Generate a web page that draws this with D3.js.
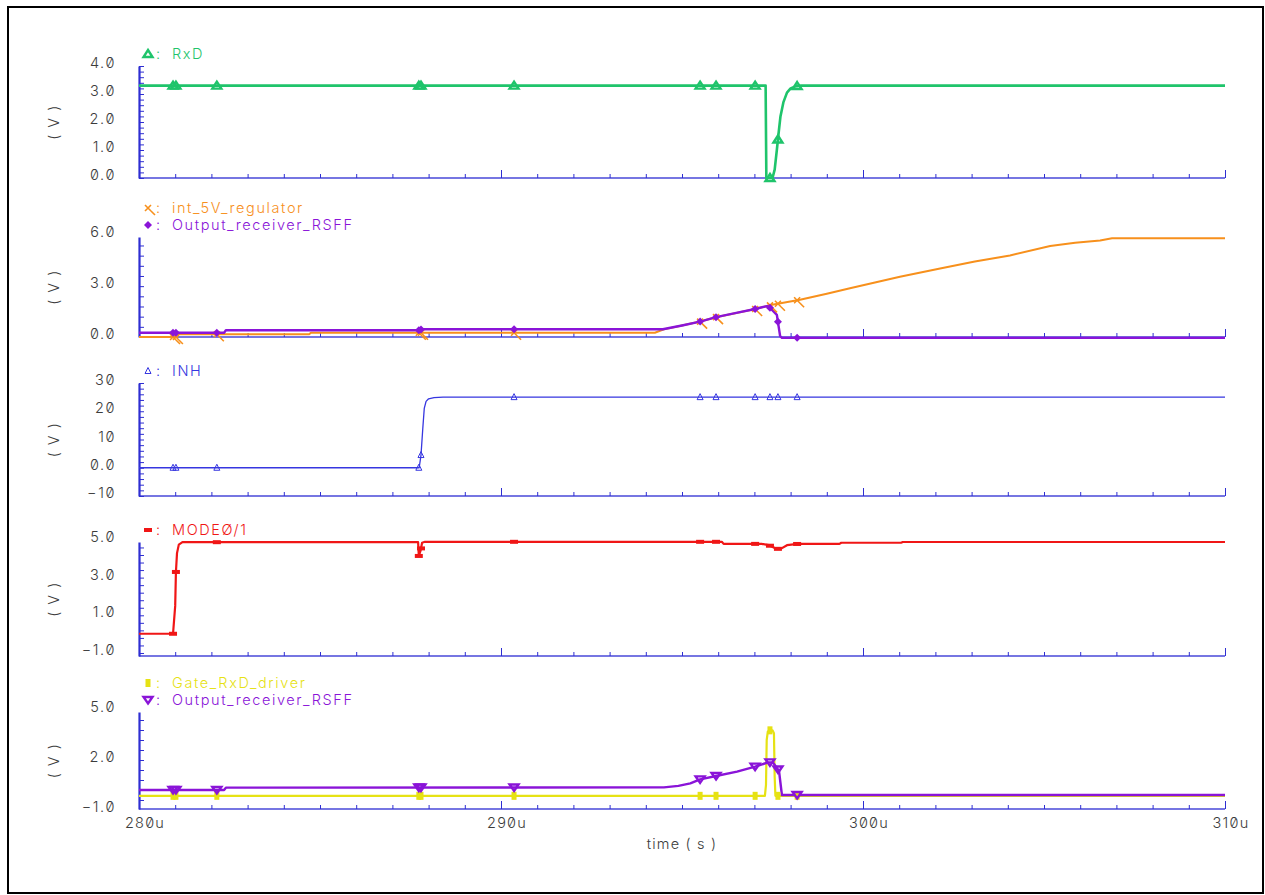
<!DOCTYPE html>
<html>
<head>
<meta charset="utf-8">
<script src="https://cdn.jsdelivr.net/npm/d3@7/dist/d3.min.js"></script>
<style>
  body { margin: 0; background: #fff; }
  svg text {
    font-family: Inter, 'Liberation Sans', sans-serif;
    font-weight: 300;
    font-feature-settings: 'zero' 1;
  }
</style>
</head>
<body>
<svg id="chart" width="1265" height="895"></svg>
<script>
// time in microseconds
const timeTicks = [280, 290, 300, 310]
const timeLabels = ['280u', '290u', '300u', '310u']

// all waveforms carry markers at the same simulation points
const markerTimes = [280.94, 281.02, 282.15, 287.73, 287.79, 290.36, 295.5, 295.94, 297.02, 297.43, 297.65, 298.18]

// [time (u), volts]
const rxd = [[280, 3.3], [297.31, 3.3], [297.33, 0], [297.5, 0], [297.56, 0.3], [297.62, 1.0], [297.66, 1.5],
  [297.72, 2.2], [297.8, 2.7], [297.9, 3.05], [298.0, 3.2], [298.15, 3.28], [298.3, 3.3], [310, 3.3]]

const regulator = [[280, 0], [281.05, 0], [281.1, 0.16], [284.7, 0.16], [284.75, 0.25], [294.25, 0.25],
  [294.5, 0.45], [295.0, 0.68], [295.5, 0.91], [295.94, 1.17], [296.5, 1.42], [297.02, 1.65], [297.38, 1.84],
  [297.49, 1.9], [298.26, 2.2], [299.0, 2.55], [299.64, 2.88], [300.3, 3.2], [301.02, 3.55], [302.13, 4.04],
  [303.09, 4.45], [304.06, 4.81], [305.17, 5.37], [305.86, 5.56], [306.55, 5.7], [306.88, 5.82], [310, 5.82]]

const rsff = [[280, 0.25], [282.35, 0.25], [282.4, 0.4], [287.75, 0.4], [287.8, 0.46], [294.47, 0.46],
  [295.0, 0.68], [295.5, 0.91], [295.94, 1.17], [296.5, 1.42], [297.02, 1.65], [297.38, 1.84], [297.62, 1.31],
  [297.71, 0.06], [297.76, -0.05], [310, -0.05]]

const inh = [[280, 0], [287.74, 0], [287.79, 4.5], [287.84, 14], [287.88, 21], [287.93, 23.5], [288.0, 24.4],
  [288.15, 24.8], [288.4, 25], [310, 25]]

const mode = [[280, 0.02], [280.94, 0.02], [281.0, 1.5], [281.02, 3.3], [281.05, 4.3], [281.1, 4.75],
  [281.2, 4.88], [287.71, 4.88], [287.73, 4.15], [287.78, 4.45], [287.82, 4.85], [287.9, 4.9], [296.1, 4.9],
  [296.15, 4.79], [297.2, 4.79], [297.4, 4.72], [297.62, 4.52], [297.75, 4.55], [297.9, 4.72], [298.2, 4.79],
  [299.35, 4.79], [299.4, 4.85], [301.05, 4.85], [301.1, 4.89], [310, 4.89]]

const gate = [[280, -0.15], [297.29, -0.15], [297.32, 0.5], [297.34, 3.2], [297.37, 3.7], [297.42, 3.78],
  [297.5, 3.78], [297.54, 3.6], [297.56, 1.0], [297.58, -0.15], [310, -0.15]]

const rsff2 = [[280, 0.2], [282.35, 0.2], [282.4, 0.34], [294.5, 0.36], [294.9, 0.45], [295.23, 0.6],
  [295.5, 0.84], [295.94, 1.04], [296.52, 1.3], [297.02, 1.6], [297.38, 1.86], [297.51, 1.86], [297.68, 1.34],
  [297.76, -0.1], [310, -0.1]]

// y tick values and labels per strip
const yTicks1 = [0, 1, 2, 3, 4]
const yLabels1 = ['0.0', '1.0', '2.0', '3.0', '4.0']
const yTicks2 = [0, 3, 6]
const yLabels2 = ['0.0', '3.0', '6.0']
const yTicks3 = [-10, 0, 10, 20, 30]
const yLabels3 = ['\u221210', '0.0', '10', '20', '30']
const yTicks4 = [-1, 1, 3, 5]
const yLabels4 = ['\u22121.0', '1.0', '3.0', '5.0']
const yTicks5 = [-1, 2, 5]
const yLabels5 = ['\u22121.0', '2.0', '5.0']

const axisColor = '#2e2ed2'
const textColor = '#3c3c3c'

const svg = d3.select('#chart')

svg.append('rect')
  .attr('x', 8).attr('y', 7).attr('width', 1255).attr('height', 886)
  .attr('fill', 'none').attr('stroke', '#000').attr('stroke-width', 2)

const x = d3.scaleLinear().domain([280, 310]).range([139, 1225])

const panels = [
  { top: 66, bottom: 178, domain: [0, 4], minor: 0.2, ticks: yTicks1, labels: yLabels1,
    series: [{ name: 'RxD', data: rxd, color: '#1fc46b', width: 2.6, marker: 'triUp' }] },
  { top: 237, bottom: 337, domain: [0, 5.9], minor: 0.6, ticks: yTicks2, labels: yLabels2,
    series: [
      { name: 'int_5V_regulator', data: regulator, color: '#f7901c', width: 2, marker: 'cross' },
      { name: 'Output_receiver_RSFF', data: rsff, color: '#8a14d8', width: 2.4, marker: 'diamond' },
    ] },
  { top: 383, bottom: 496, domain: [-10, 30], minor: 2, ticks: yTicks3, labels: yLabels3,
    series: [{ name: 'INH', data: inh, color: '#3636e0', width: 1.3, marker: 'triSmall' }] },
  { top: 542, bottom: 656, domain: [-1.16, 4.89], minor: 0.4, ticks: yTicks4, labels: yLabels4,
    series: [{ name: 'MODE\u00d8/1', data: mode, color: '#f01616', width: 2.2, marker: 'bar' }] },
  { top: 712, bottom: 809, domain: [-0.94, 4.88], minor: 0.6, ticks: yTicks5, labels: yLabels5,
    series: [
      { name: 'Gate_RxD_driver', data: gate, color: '#e6e214', width: 2.2, marker: 'block' },
      { name: 'Output_receiver_RSFF', data: rsff2, color: '#8a14d8', width: 2.4, marker: 'triDown' },
    ] },
]

// linear interpolation of a waveform, used to sit markers on the trace
function valueAt(data, t) {
  const i = d3.bisector(d => d[0]).left(data, t)
  if (i <= 0) return data[0][1]
  if (i >= data.length) return data[data.length - 1][1]
  const [t0, v0] = data[i - 1]
  const [t1, v1] = data[i]
  return t1 === t0 ? v1 : v0 + (v1 - v0) * (t - t0) / (t1 - t0)
}

function drawMarker(g, type, color, cx, cy) {
  const m = g.append('g').attr('transform', `translate(${cx},${cy})`)
  if (type === 'triUp') {
    m.append('path').attr('d', 'M0,-4L4.5,3L-4.5,3Z')
      .attr('fill', 'none').attr('stroke', color).attr('stroke-width', 2.4)
  } else if (type === 'triDown') {
    m.append('path').attr('d', 'M0,3.5L4.5,-3L-4.5,-3Z')
      .attr('fill', 'none').attr('stroke', color).attr('stroke-width', 2.4)
  } else if (type === 'triSmall') {
    m.append('path').attr('d', 'M0,-3.5L3,2.5L-3,2.5Z')
      .attr('fill', 'none').attr('stroke', color).attr('stroke-width', 1)
  } else if (type === 'diamond') {
    m.append('path').attr('d', 'M0,-4L4,0L0,4L-4,0Z').attr('fill', color)
  } else if (type === 'bar') {
    m.append('rect').attr('x', -4).attr('y', -2).attr('width', 8).attr('height', 4).attr('fill', color)
  } else if (type === 'block') {
    m.append('rect').attr('x', -2.5).attr('y', -4).attr('width', 5).attr('height', 8).attr('fill', color)
  } else if (type === 'cross') {
    m.append('path').attr('d', 'M-3,-3L3,3M-3,3L3,-3M0,0L7,7')
      .attr('stroke', color).attr('stroke-width', 1.6).attr('fill', 'none')
  }
}

panels.forEach((p, pi) => {
  const y = d3.scaleLinear().domain(p.domain).range([p.bottom, p.top])
  const g = svg.append('g')

  // x axis along the bottom of every strip
  g.append('line')
    .attr('x1', x(280)).attr('x2', x(310)).attr('y1', p.bottom).attr('y2', p.bottom)
    .attr('stroke', '#4848d8').attr('stroke-width', 1.3)
  g.append('g')
    .attr('transform', `translate(0,${p.bottom})`)
    .call(d3.axisTop(x).tickValues(d3.range(280, 311, 1)).tickSize(4).tickSizeOuter(0).tickFormat(''))
    .call(a => a.select('.domain').remove())
    .call(a => a.selectAll('line').attr('stroke', axisColor))
  g.append('g')
    .attr('transform', `translate(0,${p.bottom})`)
    .call(d3.axisTop(x).tickValues(timeTicks).tickSize(8).tickSizeOuter(0).tickFormat(''))
    .call(a => a.select('.domain').remove())
    .call(a => a.selectAll('line').attr('stroke', axisColor))

  // y axis
  const start = p.ticks[0]
  const minorVals = d3.range(start - p.minor * 5, p.domain[1] + 1e-6, p.minor)
    .map(v => Math.round(v * 1000) / 1000)
    .filter(v => v >= p.domain[0] - 1e-6 && v <= p.domain[1] + 1e-6)
  g.append('g')
    .attr('transform', `translate(${x(280)},0)`)
    .call(d3.axisRight(y).tickValues(minorVals).tickSize(5).tickSizeOuter(0).tickFormat(''))
    .call(a => a.select('.domain').attr('stroke', axisColor).attr('stroke-width', 2.2))
    .call(a => a.selectAll('line').attr('stroke', axisColor))

  g.selectAll('.ylab')
    .data(p.ticks)
    .join('text')
    .attr('class', 'ylab')
    .attr('x', 116)
    .attr('y', d => y(d) - 3)
    .attr('dy', '0.35em')
    .attr('text-anchor', 'end')
    .attr('font-size', 14.5)
    .attr('letter-spacing', 1.6)
    .attr('fill', textColor)
    .text((d, i) => p.labels[i])

  g.append('text')
    .attr('transform', `translate(54,${(p.top + p.bottom) / 2}) rotate(-90)`)
    .attr('text-anchor', 'middle')
    .attr('dy', '0.35em')
    .attr('font-size', 14.5)
    .attr('letter-spacing', 1.5)
    .attr('fill', textColor)
    .text('( V )')

  // traces
  const line = d3.line().x(d => x(d[0])).y(d => y(d[1]))
  p.series.forEach(s => {
    g.append('path')
      .datum(s.data)
      .attr('d', line)
      .attr('fill', 'none')
      .attr('stroke', s.color)
      .attr('stroke-width', s.width)
      .attr('stroke-linejoin', 'round')
  })
  p.series.forEach(s => {
    markerTimes.forEach(t => drawMarker(g, s.marker, s.color, x(t), y(valueAt(s.data, t))))
  })

  // legend above the strip
  p.series.forEach((s, si) => {
    const ly = p.top - 12 - (p.series.length - 1 - si) * 17
    drawMarker(g, s.marker, s.color, 148, ly)
    g.append('text')
      .attr('x', 156).attr('y', ly).attr('dy', '0.35em')
      .attr('font-size', 14.5).attr('fill', s.color)
      .text(':')
    g.append('text')
      .attr('x', 172).attr('y', ly).attr('dy', '0.35em')
      .attr('font-size', 14.5).attr('letter-spacing', 1.6).attr('fill', s.color)
      .text(s.name)
  })

  // time labels only under the last strip
  if (pi === panels.length - 1) {
    g.selectAll('.xlab')
      .data(timeTicks)
      .join('text')
      .attr('class', 'xlab')
      .attr('x', d => x(d) + 6)
      .attr('y', p.bottom + 14)
      .attr('dy', '0.35em')
      .attr('text-anchor', 'middle')
      .attr('font-size', 14.5)
      .attr('letter-spacing', 1.2)
      .attr('fill', textColor)
      .text((d, i) => timeLabels[i])
    g.append('text')
      .attr('x', 682).attr('y', p.bottom + 35).attr('dy', '0.35em')
      .attr('text-anchor', 'middle')
      .attr('font-size', 14.5)
      .attr('letter-spacing', 1.2)
      .attr('fill', textColor)
      .text('time ( s )')
  }
})
</script>
</body>
</html>
